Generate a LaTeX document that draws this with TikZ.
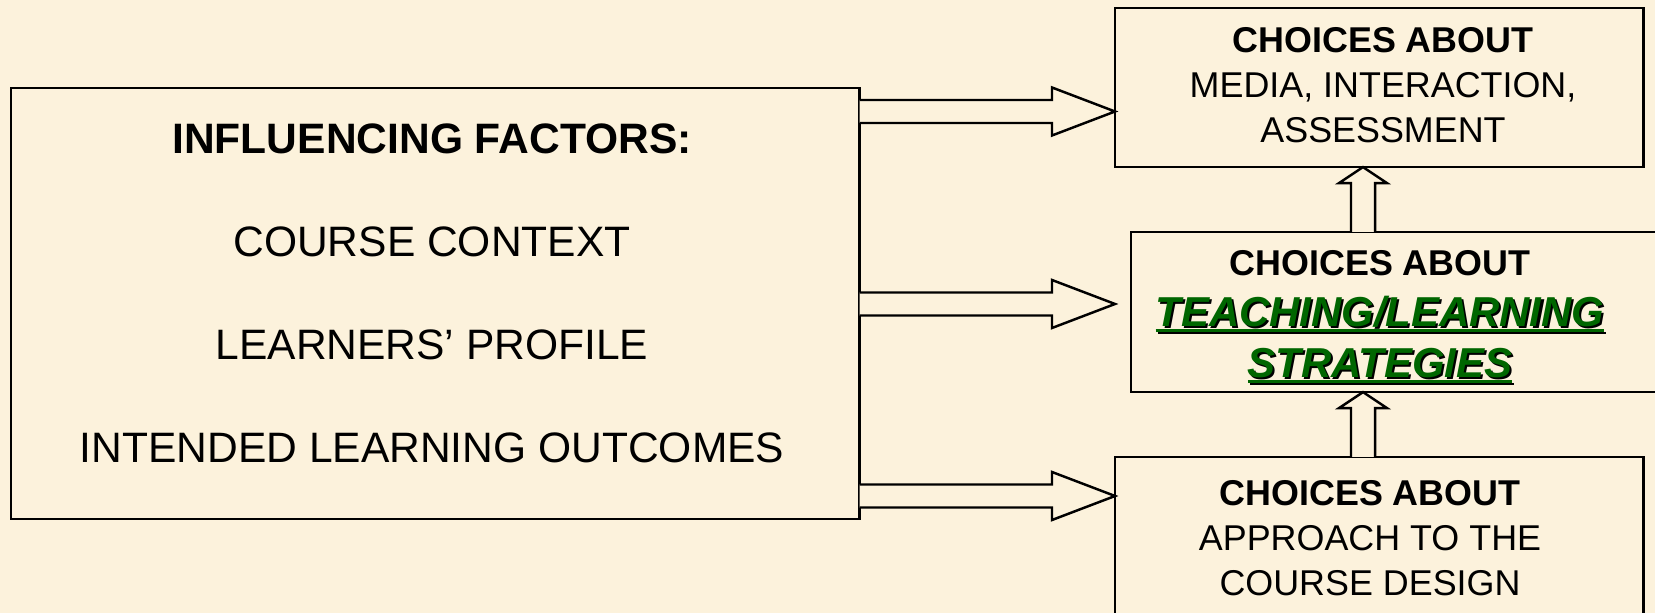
\documentclass[tikz,border=0pt]{standalone}
\usepackage{fontspec}
\setmainfont{Liberation Sans}
\usetikzlibrary{calc,positioning}

\definecolor{bg}{RGB}{252,242,220}
\definecolor{stratgreen}{RGB}{0,102,0}

%Shadowed and underlined words
\newcommand{\shadowed}[1]{\rlap{\kern0.6pt\raisebox{-0.6pt}{\color{black}#1}}#1}
\newcommand{\ulined}[1]{\setbox0\hbox{#1}\rlap{\rule[-1.6pt]{\wd0}{0.8pt}}\box0}

%Block arrows
\newcommand{\fatright}[2]{%
  \draw[fat] let \p1=(#1), \p2=(#2) in
    (\x1,\y1+\shaftw) -- (\x2-\headl,\y1+\shaftw) -- (\x2-\headl,\y1+\headw) -- (\x2,\y1)
    -- (\x2-\headl,\y1-\headw) -- (\x2-\headl,\y1-\shaftw) -- (\x1,\y1-\shaftw);}
\newcommand{\fatup}[2]{%
  \draw[fat] let \p1=(#1), \p2=(#2) in
    (\x1-\upw,\y1) -- (\x1-\upw,\y2-\uphl) -- (\x1-\headw,\y2-\uphl) -- (\x1,\y2)
    -- (\x1+\headw,\y2-\uphl) -- (\x1+\upw,\y2-\uphl) -- (\x1+\upw,\y1);}

\begin{document}
\begin{tikzpicture}
[x=0.01cm,y=-0.01cm,
box/.style={draw,line width=0.7pt,outer sep=0pt,inner sep=0pt,anchor=north west},
fat/.style={draw,fill=bg,line width=0.7pt,line join=miter},
txt/.style={align=center,inner sep=0pt},]

%Arrow sizes
\def\shaftw{0.115cm}
\def\headw{0.24cm}
\def\headl{0.63cm}
\def\upw{0.12cm}
\def\uphl{0.16cm}

%Page and background
\useasboundingbox (0,0) rectangle (1655,613);
\fill[bg] (0,0) rectangle (1655,613);

%Boxes
\node[box,minimum width=8.48cm,minimum height=4.31cm] (infl) at (11,88) {};
\node[box,minimum width=5.28cm,minimum height=1.59cm] (media) at (1115,8) {};
\node[box,minimum width=5.40cm,minimum height=1.60cm] (strat) at (1131,232) {};
\node[box,minimum width=5.28cm,minimum height=1.80cm] (design) at (1115,457) {};

%Texts
\node[txt,font=\fontsize{12.1}{29.3}\selectfont] (infltext) at (432,293)
  {{\bfseries INFLUENCING FACTORS:}\\COURSE CONTEXT\\LEARNERS’ PROFILE\\INTENDED LEARNING OUTCOMES};
\node[txt,font=\fontsize{10.2}{12.7}\selectfont] (mediatext) at (1383,85)
  {{\bfseries CHOICES ABOUT}\\MEDIA, INTERACTION,\\ASSESSMENT};
\node[txt,font=\fontsize{10.2}{14.5}\selectfont] (strattext) at (1380,318)
  {{\bfseries CHOICES ABOUT}\\
   {\fontsize{11.9}{14.5}\selectfont\bfseries\itshape\color{stratgreen}\shadowed{\ulined{TEACHING/LEARNING}}}\\
   {\fontsize{11.9}{14.5}\selectfont\bfseries\itshape\color{stratgreen}\shadowed{\ulined{STRATEGIES}}}};
\node[txt,font=\fontsize{10.2}{12.8}\selectfont] (designtext) at (1370,538)
  {{\bfseries CHOICES ABOUT}\\APPROACH TO THE\\COURSE DESIGN};

%Marking coordinates for the arrows
\coordinate (r1) at (0,111.5);
\coordinate (r2) at (0,304);
\coordinate (r3) at (0,496);
\coordinate (vx) at (1363,0);

%Arrows from the factors
\fatright{infl.east |- r1}{media.west |- r1}
\fatright{infl.east |- r2}{media.west |- r2}
\fatright{infl.east |- r3}{design.west |- r3}

%Arrows up the right column
\fatup{strat.north -| vx}{media.south -| vx}
\fatup{design.north -| vx}{strat.south -| vx}

\end{tikzpicture}
\end{document}
